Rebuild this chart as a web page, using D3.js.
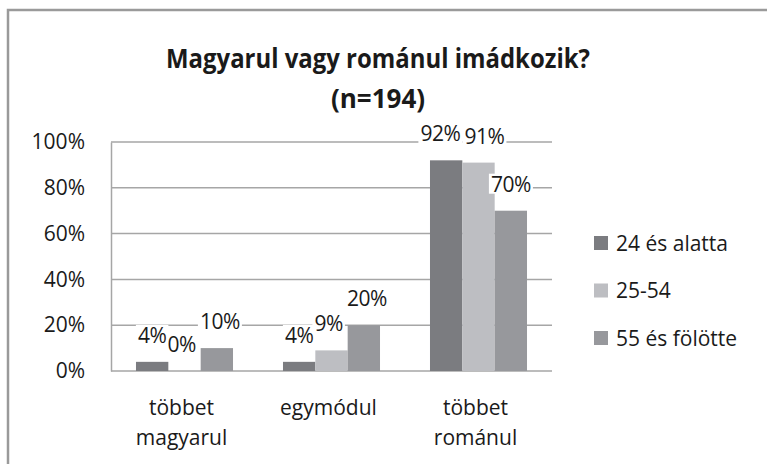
<!DOCTYPE html>
<html>
<head>
<meta charset="utf-8">
<script src="https://cdn.jsdelivr.net/npm/d3@7"></script>
<style>
  body { margin: 0; background: #fff; }
  text { font-family: "Open Sans", sans-serif; fill: #1a1a1a; }
</style>
</head>
<body>
<div id="chart"></div>
<script>
// data
var categories = [["többet", "magyarul"], ["egymódul"], ["többet", "románul"]];
var seriesNames = ["24 és alatta", "25-54", "55 és fölötte"];
var seriesValues = [
    [4, 4, 92],    // 24 és alatta
    [0, 9, 91],    // 25-54
    [10, 20, 70]   // 55 és fölötte
];
var yTicks = [0, 20, 40, 60, 80, 100];
var colors = ["#7b7c80", "#bdbec2", "#97989c"];

var svgWidth = 767, svgHeight = 464;
var plot = {left: 111, right: 552, top: 142, bottom: 371};

var svg = d3.select("#chart")
    .append("svg")
        .attr("width", svgWidth)
        .attr("height", svgHeight);

// outer frame (runs off the right and bottom edges)
svg.append("rect")
    .attr("x", 8).attr("y", 10)
    .attr("width", 800).attr("height", 500)
    .attr("fill", "none")
    .attr("stroke", "#9a9a9a")
    .attr("stroke-width", 2.5);

// title
svg.append("text")
    .attr("x", 378).attr("y", 68)
    .attr("text-anchor", "middle")
    .attr("font-size", "26px").attr("font-weight", "bold")
    .attr("textLength", 424).attr("lengthAdjust", "spacingAndGlyphs")
    .text("Magyarul vagy románul imádkozik?");
svg.append("text")
    .attr("x", 378).attr("y", 108)
    .attr("text-anchor", "middle")
    .attr("font-size", "26px").attr("font-weight", "bold")
    .text("(n=194)");

var y = d3.scaleLinear().domain([0, 100]).range([plot.bottom, plot.top]);
var x0 = d3.scaleBand().domain(d3.range(categories.length))
    .range([plot.left, plot.right]).paddingInner(0.34).paddingOuter(0.17);
var x1 = d3.scaleBand().domain(d3.range(seriesNames.length))
    .range([0, x0.bandwidth()]);

// gridlines
svg.append("g")
    .selectAll("line")
    .data(yTicks)
    .enter()
    .append("line")
        .attr("x1", plot.left).attr("x2", plot.right)
        .attr("y1", function(d){ return y(d); })
        .attr("y2", function(d){ return y(d); })
        .attr("stroke", "#a6a6a6")
        .attr("stroke-width", 1.5);

// y axis
var yAxis = svg.append("g")
    .attr("transform", "translate(" + plot.left + ",0)")
    .call(d3.axisLeft(y).tickValues(yTicks).tickSize(0).tickPadding(26)
        .tickFormat(function(d){ return d + "%"; }));
yAxis.select(".domain").attr("stroke", "#a6a6a6").attr("stroke-width", 1.5);
yAxis.selectAll("text").attr("font-size", "21px").attr("fill", "#1a1a1a")
    .attr("font-family", "'Open Sans', sans-serif");

// bars
var flat = [];
seriesValues.forEach(function(vals, s){
    vals.forEach(function(v, c){ flat.push({s: s, c: c, v: v}); });
});

svg.append("g")
    .selectAll("rect")
    .data(flat)
    .enter()
    .append("rect")
        .attr("x", function(d){ return x0(d.c) + x1(d.s); })
        .attr("y", function(d){ return y(d.v); })
        .attr("width", x1.bandwidth())
        .attr("height", function(d){ return y(0) - y(d.v); })
        .attr("fill", function(d){ return colors[d.s]; });

// value labels: white backing layer first, then texts
var backLayer = svg.append("g");
var labelLayer = svg.append("g");
var labels = labelLayer.selectAll("text")
    .data(flat)
    .enter()
    .append("text")
        .attr("x", function(d){ return x0(d.c) + x1(d.s) + x1.bandwidth() / 2; })
        .attr("y", function(d){ return y(d.v) - 19; })
        .attr("text-anchor", "middle")
        .attr("font-size", "21px")
        .attr("letter-spacing", "-0.5px")
        .text(function(d){ return d.v + "%"; });

// push apart labels that collide inside a group
var nodes = labels.nodes();
nodes.forEach(function(a, i){
    nodes.forEach(function(b, j){
        var da = flat[i], db = flat[j];
        if (da.c !== db.c || db.s !== da.s + 1) return;
        var ba = a.getBBox(), bb = b.getBBox();
        var vOverlap = ba.y < bb.y + bb.height && bb.y < ba.y + ba.height;
        var overlap = ba.x + ba.width + 4 - bb.x;
        if (vOverlap && overlap > 0) {
            a.setAttribute("x", +a.getAttribute("x") - overlap / 2);
            b.setAttribute("x", +b.getAttribute("x") + overlap / 2);
        }
    });
});

labels.each(function(){
    var b = this.getBBox();
    backLayer.append("rect")
        .attr("x", b.x - 2).attr("y", b.y + 4)
        .attr("width", b.width + 4).attr("height", b.height - 8)
        .attr("fill", "#fff");
});

// category labels
svg.append("g")
    .selectAll("text")
    .data(categories)
    .enter()
    .append("text")
        .attr("x", function(d, i){ return x0(i) + x0.bandwidth() / 2 - 3; })
        .attr("y", 415)
        .attr("text-anchor", "middle")
        .attr("font-size", "21px")
        .each(function(d){
            var t = d3.select(this);
            d.forEach(function(line, k){
                t.append("tspan")
                    .attr("x", t.attr("x"))
                    .attr("dy", k === 0 ? 0 : 30)
                    .text(line);
            });
        });

// legend
var legend = svg.append("g")
    .selectAll("g")
    .data(seriesNames)
    .enter()
    .append("g")
        .attr("transform", function(d, i){ return "translate(594," + (243 + i * 47.5) + ")"; });
legend.append("rect")
    .attr("x", 0).attr("y", -7)
    .attr("width", 14).attr("height", 14)
    .attr("fill", function(d, i){ return colors[i]; });
legend.append("text")
    .attr("x", 22).attr("y", 7.5)
    .attr("font-size", "21px")
    .text(function(d){ return d; });
</script>
</body>
</html>
